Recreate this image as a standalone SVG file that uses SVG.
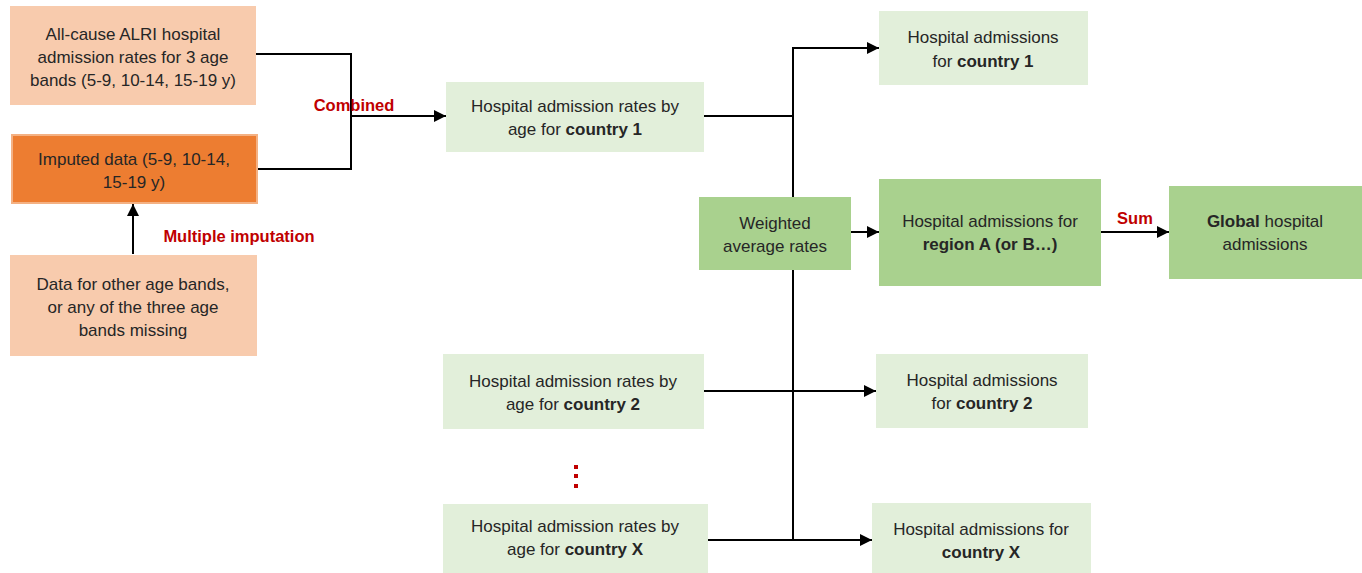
<svg xmlns="http://www.w3.org/2000/svg" width="1362" height="573" viewBox="0 0 1362 573">
<defs>
<marker id="ah" viewBox="0 0 10 10" refX="10" refY="5" markerWidth="12" markerHeight="12" markerUnits="userSpaceOnUse" orient="auto">
<path d="M0,0 L10,5 L0,10 z" fill="#000"/>
</marker>
<style>
text{font-family:"Liberation Sans",Arial,sans-serif;font-size:17px;fill:#262626;text-anchor:middle}
.b{font-weight:bold}
.lab{fill:#C00000;font-weight:bold;font-size:16.5px}
.peach{fill:#F8CBAD}
.orange{fill:#ED7D31;stroke:#F4B183;stroke-width:2}
.light{fill:#E2EFDA}
.mid{fill:#A9D18E}
.ln{fill:none;stroke:#000;stroke-width:2}
</style>
</defs>
<rect width="1362" height="573" fill="#fff"/>
<g id="connectors">
<polyline class="ln" points="256,54 351,54 351,169 257,169"/>
<line class="ln" x1="351" y1="116" x2="446" y2="116" marker-end="url(#ah)"/>
<line class="ln" x1="133" y1="254" x2="133" y2="204" marker-end="url(#ah)"/>
<line class="ln" x1="704" y1="116" x2="793" y2="116"/>
<polyline class="ln" points="793,540 793,48 879,48" marker-end="url(#ah)"/>
<line class="ln" x1="851" y1="232" x2="879" y2="232" marker-end="url(#ah)"/>
<line class="ln" x1="1101" y1="232" x2="1169" y2="232" marker-end="url(#ah)"/>
<line class="ln" x1="704" y1="391" x2="876" y2="391" marker-end="url(#ah)"/>
<line class="ln" x1="708" y1="540" x2="872" y2="540" marker-end="url(#ah)"/>
<text class="lab" x="354" y="111">Combined</text>
<text class="lab" x="239" y="242">Multiple imputation</text>
<text class="lab" x="1135" y="224">Sum</text>
</g>
<g id="n1"><rect class="peach" x="10" y="6" width="246" height="99"/>
<text x="133" y="40">All-cause ALRI hospital</text><text x="133" y="63">admission rates for 3 age</text><text x="133" y="86">bands (5-9, 10-14, 15-19 y)</text></g>
<g id="n2"><rect class="orange" x="12" y="135" width="245" height="68"/>
<text x="134" y="165">Imputed data (5-9, 10-14,</text><text x="134" y="188">15-19 y)</text></g>
<g id="n3"><rect class="peach" x="10" y="255" width="247" height="101"/>
<text x="133" y="290">Data for other age bands,</text><text x="133" y="313">or any of the three age</text><text x="133" y="336">bands missing</text></g>
<g id="n4"><rect class="light" x="446" y="82" width="258" height="70"/>
<text x="575" y="112">Hospital admission rates by</text><text x="575" y="135">age for <tspan class="b">country 1</tspan></text></g>
<g id="n5"><rect class="mid" x="699" y="197" width="152" height="73"/>
<text x="775" y="229">Weighted</text><text x="775" y="252">average rates</text></g>
<g id="n6"><rect class="light" x="879" y="11" width="209" height="74"/>
<text x="983" y="43">Hospital admissions</text><text x="983" y="67">for <tspan class="b">country 1</tspan></text></g>
<g id="n7"><rect class="mid" x="879" y="179" width="222" height="107"/>
<text x="990" y="227">Hospital admissions for</text><text x="990" y="250" class="b">region A (or B…)</text></g>
<g id="n8"><rect class="mid" x="1169" y="186" width="193" height="93"/>
<text x="1265" y="227"><tspan class="b">Global</tspan> hospital</text><text x="1265" y="250">admissions</text></g>
<g id="n9"><rect class="light" x="443" y="354" width="261" height="75"/>
<text x="573" y="387">Hospital admission rates by</text><text x="573" y="410">age for <tspan class="b">country 2</tspan></text></g>
<g id="n10"><rect class="light" x="876" y="354" width="212" height="74"/>
<text x="982" y="386">Hospital admissions</text><text x="982" y="409">for <tspan class="b">country 2</tspan></text></g>
<g id="dots" fill="#C00000"><rect x="574" y="465" width="4" height="4"/><rect x="574" y="474" width="4" height="4"/><rect x="574" y="484" width="4" height="4"/></g>
<g id="n11"><rect class="light" x="443" y="504" width="265" height="69"/>
<text x="575" y="532">Hospital admission rates by</text><text x="575" y="555">age for <tspan class="b">country X</tspan></text></g>
<g id="n12"><rect class="light" x="872" y="503" width="219" height="70"/>
<text x="981" y="535">Hospital admissions for</text><text x="981" y="558" class="b">country X</text></g>
</svg>
